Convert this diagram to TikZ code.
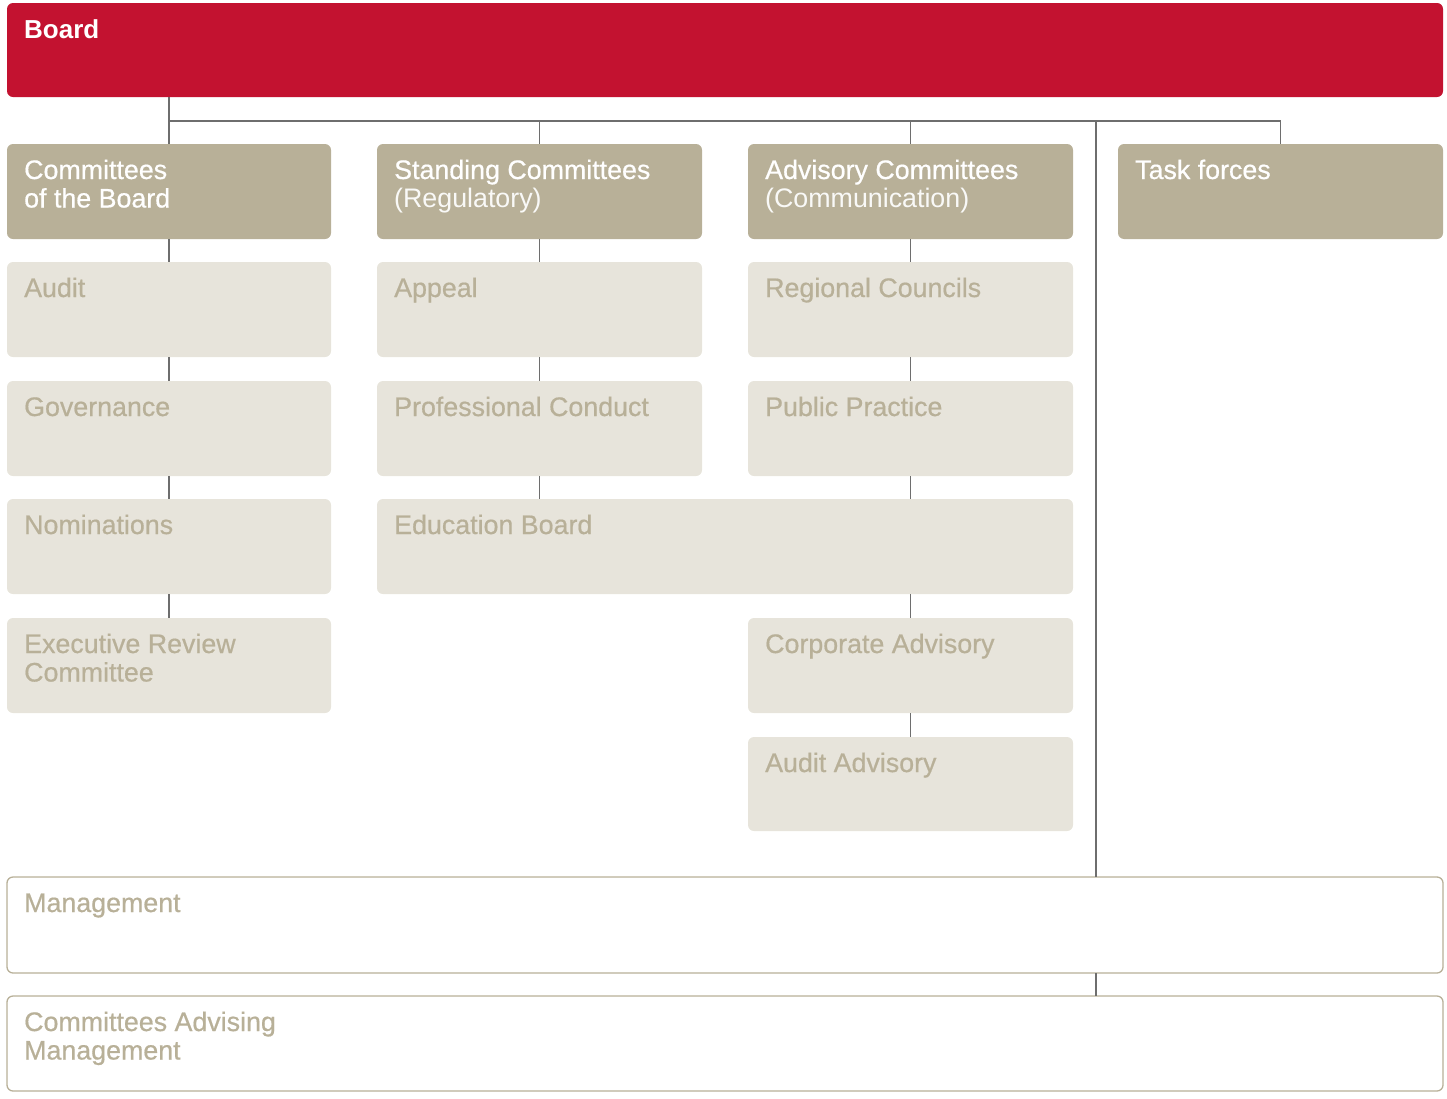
\documentclass[tikz,border=0pt]{standalone}
\usepackage{fontspec}
\setmainfont{Liberation Sans}
\newfontfamily\medfont[FakeBold=0.6]{Liberation Sans}
\definecolor{brdred}{HTML}{C31230}
\definecolor{tanc}{HTML}{B8B098}
\definecolor{lightbox}{HTML}{E7E4DB}
\definecolor{linegray}{HTML}{6E6E6E}
\tikzset{
  basebox/.style={rectangle, rounded corners=6pt, inner sep=0pt, outer sep=0pt, anchor=north west},
  redbox/.style={basebox, fill=brdred},
  headbox/.style={basebox, fill=tanc},
  subbox/.style={basebox, fill=lightbox},
  outbox/.style={basebox, draw=tanc, line width=1.3pt, fill=white},
  lbl/.style={anchor=base west, inner sep=0pt, align=left, font=\fontsize{26.8}{28.5}\selectfont\medfont},
  wlbl/.style={lbl, text=white},
  wlbltwo/.style={wlbl, yshift=-28.5pt},
  blbl/.style={lbl, text=white, font=\fontsize{26}{28.5}\selectfont\rmfamily\bfseries},
  tlbl/.style={lbl, text=tanc},
  tlbltwo/.style={tlbl, yshift=-28.5pt},
  conn/.style={draw=linegray, line width=1.2pt},
}
\newcommand\mybox[8]{%
  \node[#2, minimum width=#5pt, minimum height=#6pt] (#1) at (#3,#4) {};
  \node[#7] (#1-t) at ([xshift=17pt,yshift=-35pt]#1.north west) {#8};}
\newcommand\lightpart[1]{{\rmfamily\color{white!92!tanc}#1}}
\begin{document}
\begin{tikzpicture}[x=1pt,y=-1pt]
\useasboundingbox (0,0) rectangle (1447,1098);
% top
\mybox{board}{redbox}{7}{3}{1436}{94}{blbl}{Board}
% headers
\mybox{cob}{headbox}{7}{144}{324}{95}{wlbltwo}{Committees\\of the Board}
\mybox{sc}{headbox}{377}{144}{325}{95}{wlbltwo}{Standing Committees\\\lightpart{(Regulatory)}}
\mybox{ac}{headbox}{748}{144}{325}{95}{wlbltwo}{Advisory Committees\\\lightpart{(Communication)}}
\mybox{tf}{headbox}{1118}{144}{325}{95}{wlbl}{Task forces}
% column 1
\mybox{audit}{subbox}{7}{262}{324}{95}{tlbl}{Audit}
\mybox{gov}{subbox}{7}{381}{324}{95}{tlbl}{Governance}
\mybox{nom}{subbox}{7}{499}{324}{95}{tlbl}{Nominations}
\mybox{erc}{subbox}{7}{618}{324}{95}{tlbltwo}{Executive Review\\Committee}
% column 2
\mybox{appeal}{subbox}{377}{262}{325}{95}{tlbl}{Appeal}
\mybox{pc}{subbox}{377}{381}{325}{95}{tlbl}{Professional Conduct}
\mybox{edu}{subbox}{377}{499}{696}{95}{tlbl}{Education Board}
% column 3
\mybox{rc}{subbox}{748}{262}{325}{95}{tlbl}{Regional Councils}
\mybox{pp}{subbox}{748}{381}{325}{95}{tlbl}{Public Practice}
\mybox{ca}{subbox}{748}{618}{325}{95}{tlbl}{Corporate Advisory}
\mybox{aa}{subbox}{748}{737}{325}{94}{tlbl}{Audit Advisory}
% bottom
\mybox{mgmt}{outbox}{7}{877}{1436}{96}{tlbl}{Management}
\mybox{cam}{outbox}{7}{996}{1436}{95}{tlbltwo}{Committees Advising\\Management}
% connectors
\coordinate (bus) at (0,121);
\coordinate (tfx) at (1096,121);
\draw[conn] (board.south -| cob.north) -- (cob.north);
\draw[conn] (bus -| cob.north) -- (bus -| tf.north) -- (tf.north);
\draw[conn] (bus -| sc.north) -- (sc.north);
\draw[conn] (bus -| ac.north) -- (ac.north);
\draw[conn] (tfx) -- (tfx |- mgmt.north);
\draw[conn] (tfx |- mgmt.south) -- (tfx |- cam.north);
\draw[conn] (cob.south) -- (audit.north);
\draw[conn] (audit.south) -- (gov.north);
\draw[conn] (gov.south) -- (nom.north);
\draw[conn] (nom.south) -- (erc.north);
\draw[conn] (sc.south) -- (appeal.north);
\draw[conn] (appeal.south) -- (pc.north);
\draw[conn] (pc.south) -- (pc.south |- edu.north);
\draw[conn] (ac.south) -- (rc.north);
\draw[conn] (rc.south) -- (pp.north);
\draw[conn] (pp.south) -- (pp.south |- edu.north);
\draw[conn] (edu.south -| ca.north) -- (ca.north);
\draw[conn] (ca.south) -- (aa.north);
\end{tikzpicture}
\end{document}
